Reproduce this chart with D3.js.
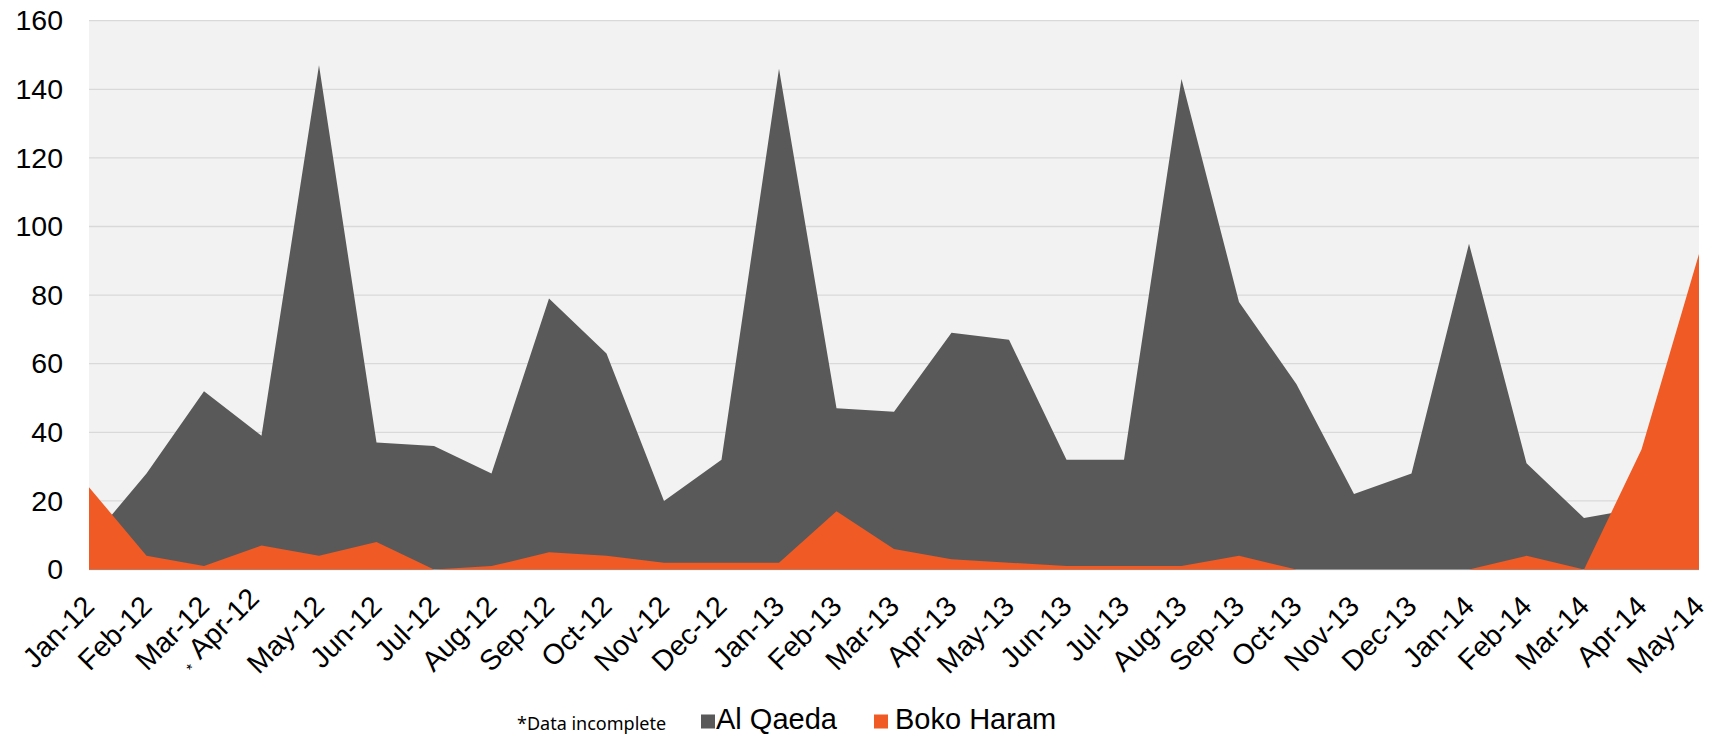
<!DOCTYPE html>
<html>
<head>
<meta charset="utf-8">
<script src="https://cdn.jsdelivr.net/npm/d3@7/dist/d3.min.js"></script>
<style>
  html, body { margin: 0; padding: 0; background: #ffffff; }
  svg { display: block; }
</style>
</head>
<body>
<svg id="grafico"></svg>
<script>
const ancho = 1719;
const alto = 734;

// months Jan-12 .. May-14
const meses = ["Jan-12", "Feb-12", "Mar-12", "Apr-12", "May-12", "Jun-12", "Jul-12", "Aug-12",
  "Sep-12", "Oct-12", "Nov-12", "Dec-12", "Jan-13", "Feb-13", "Mar-13", "Apr-13", "May-13",
  "Jun-13", "Jul-13", "Aug-13", "Sep-13", "Oct-13", "Nov-13", "Dec-13", "Jan-14", "Feb-14",
  "Mar-14", "Apr-14", "May-14"];

const alQaeda = [8, 28, 52, 39, 147, 37, 36, 28, 79, 63, 20, 32, 146, 47, 46, 69, 67,
  32, 32, 143, 78, 54, 22, 28, 95, 31, 15, 18, 10];

const bokoHaram = [24, 4, 1, 7, 4, 8, 0, 1, 5, 4, 2, 2, 2, 17, 6, 3, 2,
  1, 1, 1, 4, 0, 0, 0, 0, 4, 0, 35, 92];

const ticksY = [0, 20, 40, 60, 80, 100, 120, 140, 160];
const mesIncompleto = "Apr-12";

const series = [
  { nombre: "Al Qaeda", valores: alQaeda, color: "#595959" },
  { nombre: "Boko Haram", valores: bokoHaram, color: "#f05a24" }
];

const margen = { izq: 89, der: 20, arr: 20.7, aba: 164.5 };
const x0 = margen.izq, x1 = ancho - margen.der;
const yArr = margen.arr, yAba = alto - margen.aba;

const svg = d3.select("#grafico").attr("width", ancho).attr("height", alto);

const x = d3.scalePoint().domain(meses).range([x0, x1]);
const y = d3.scaleLinear().domain([0, 160]).range([yAba, yArr]);

// fondo del area de trazado
svg.append("rect")
  .attr("x", x0)
  .attr("y", yArr)
  .attr("width", x1 - x0)
  .attr("height", yAba - yArr)
  .attr("fill", "#f2f2f2");

// reticula
svg.append("g")
  .selectAll("line")
  .data(ticksY)
  .join("line")
  .attr("x1", x0)
  .attr("x2", x1)
  .attr("y1", d => y(d))
  .attr("y2", d => y(d))
  .attr("stroke", "#d9d9d9")
  .attr("stroke-width", 1.3);

const area = d3.area()
  .x((d, i) => x(meses[i]))
  .y0(y(0))
  .y1(d => y(d));

svg.append("g")
  .selectAll("path")
  .data(series)
  .join("path")
  .attr("d", d => area(d.valores))
  .attr("fill", d => d.color);

// eje Y
const ejeY = svg.append("g")
  .attr("transform", `translate(${x0},0)`)
  .call(d3.axisLeft(y).tickValues(ticksY).tickSize(0).tickPadding(26));
ejeY.select(".domain").remove();
ejeY.selectAll("text")
  .attr("font-family", "'Liberation Sans', Arial, sans-serif")
  .attr("font-size", 28.5)
  .attr("fill", "#000000");

// eje X, etiquetas giradas
const etiquetas = svg.append("g")
  .selectAll("text")
  .data(meses)
  .join("text")
  .attr("transform", d => `translate(${x(d)},${yAba + 31.5}) rotate(-45)`)
  .attr("text-anchor", "end")
  .attr("dy", "0.35em")
  .attr("font-family", "'Liberation Sans', Arial, sans-serif")
  .attr("font-size", 28.5)
  .attr("fill", "#000000");

etiquetas.each(function(d) {
  const t = d3.select(this);
  if (d === mesIncompleto) {
    t.append("tspan").attr("font-size", 15).attr("dy", "0.2em").text("* ");
    t.append("tspan").attr("dx", 5).attr("dy", "-0.15em").text(d);
  } else {
    t.text(d);
  }
});

// leyenda
const leyenda = svg.append("g");

leyenda.append("text")
  .attr("x", 517)
  .attr("y", 730)
  .attr("font-family", "'Noto Sans', 'Open Sans', sans-serif")
  .attr("font-size", 18)
  .attr("fill", "#000000")
  .text("*Data incomplete");

const posLeyenda = [701, 874];
const posTexto = [716, 895];
series.forEach((s, i) => {
  leyenda.append("rect")
    .attr("x", posLeyenda[i])
    .attr("y", 714.5)
    .attr("width", 14)
    .attr("height", 14)
    .attr("fill", s.color);
  leyenda.append("text")
    .attr("x", posTexto[i])
    .attr("y", 728.5)
    .attr("font-family", "'Liberation Sans', Arial, sans-serif")
    .attr("font-size", 29)
    .attr("fill", "#000000")
    .text(s.nombre);
});
</script>
</body>
</html>
